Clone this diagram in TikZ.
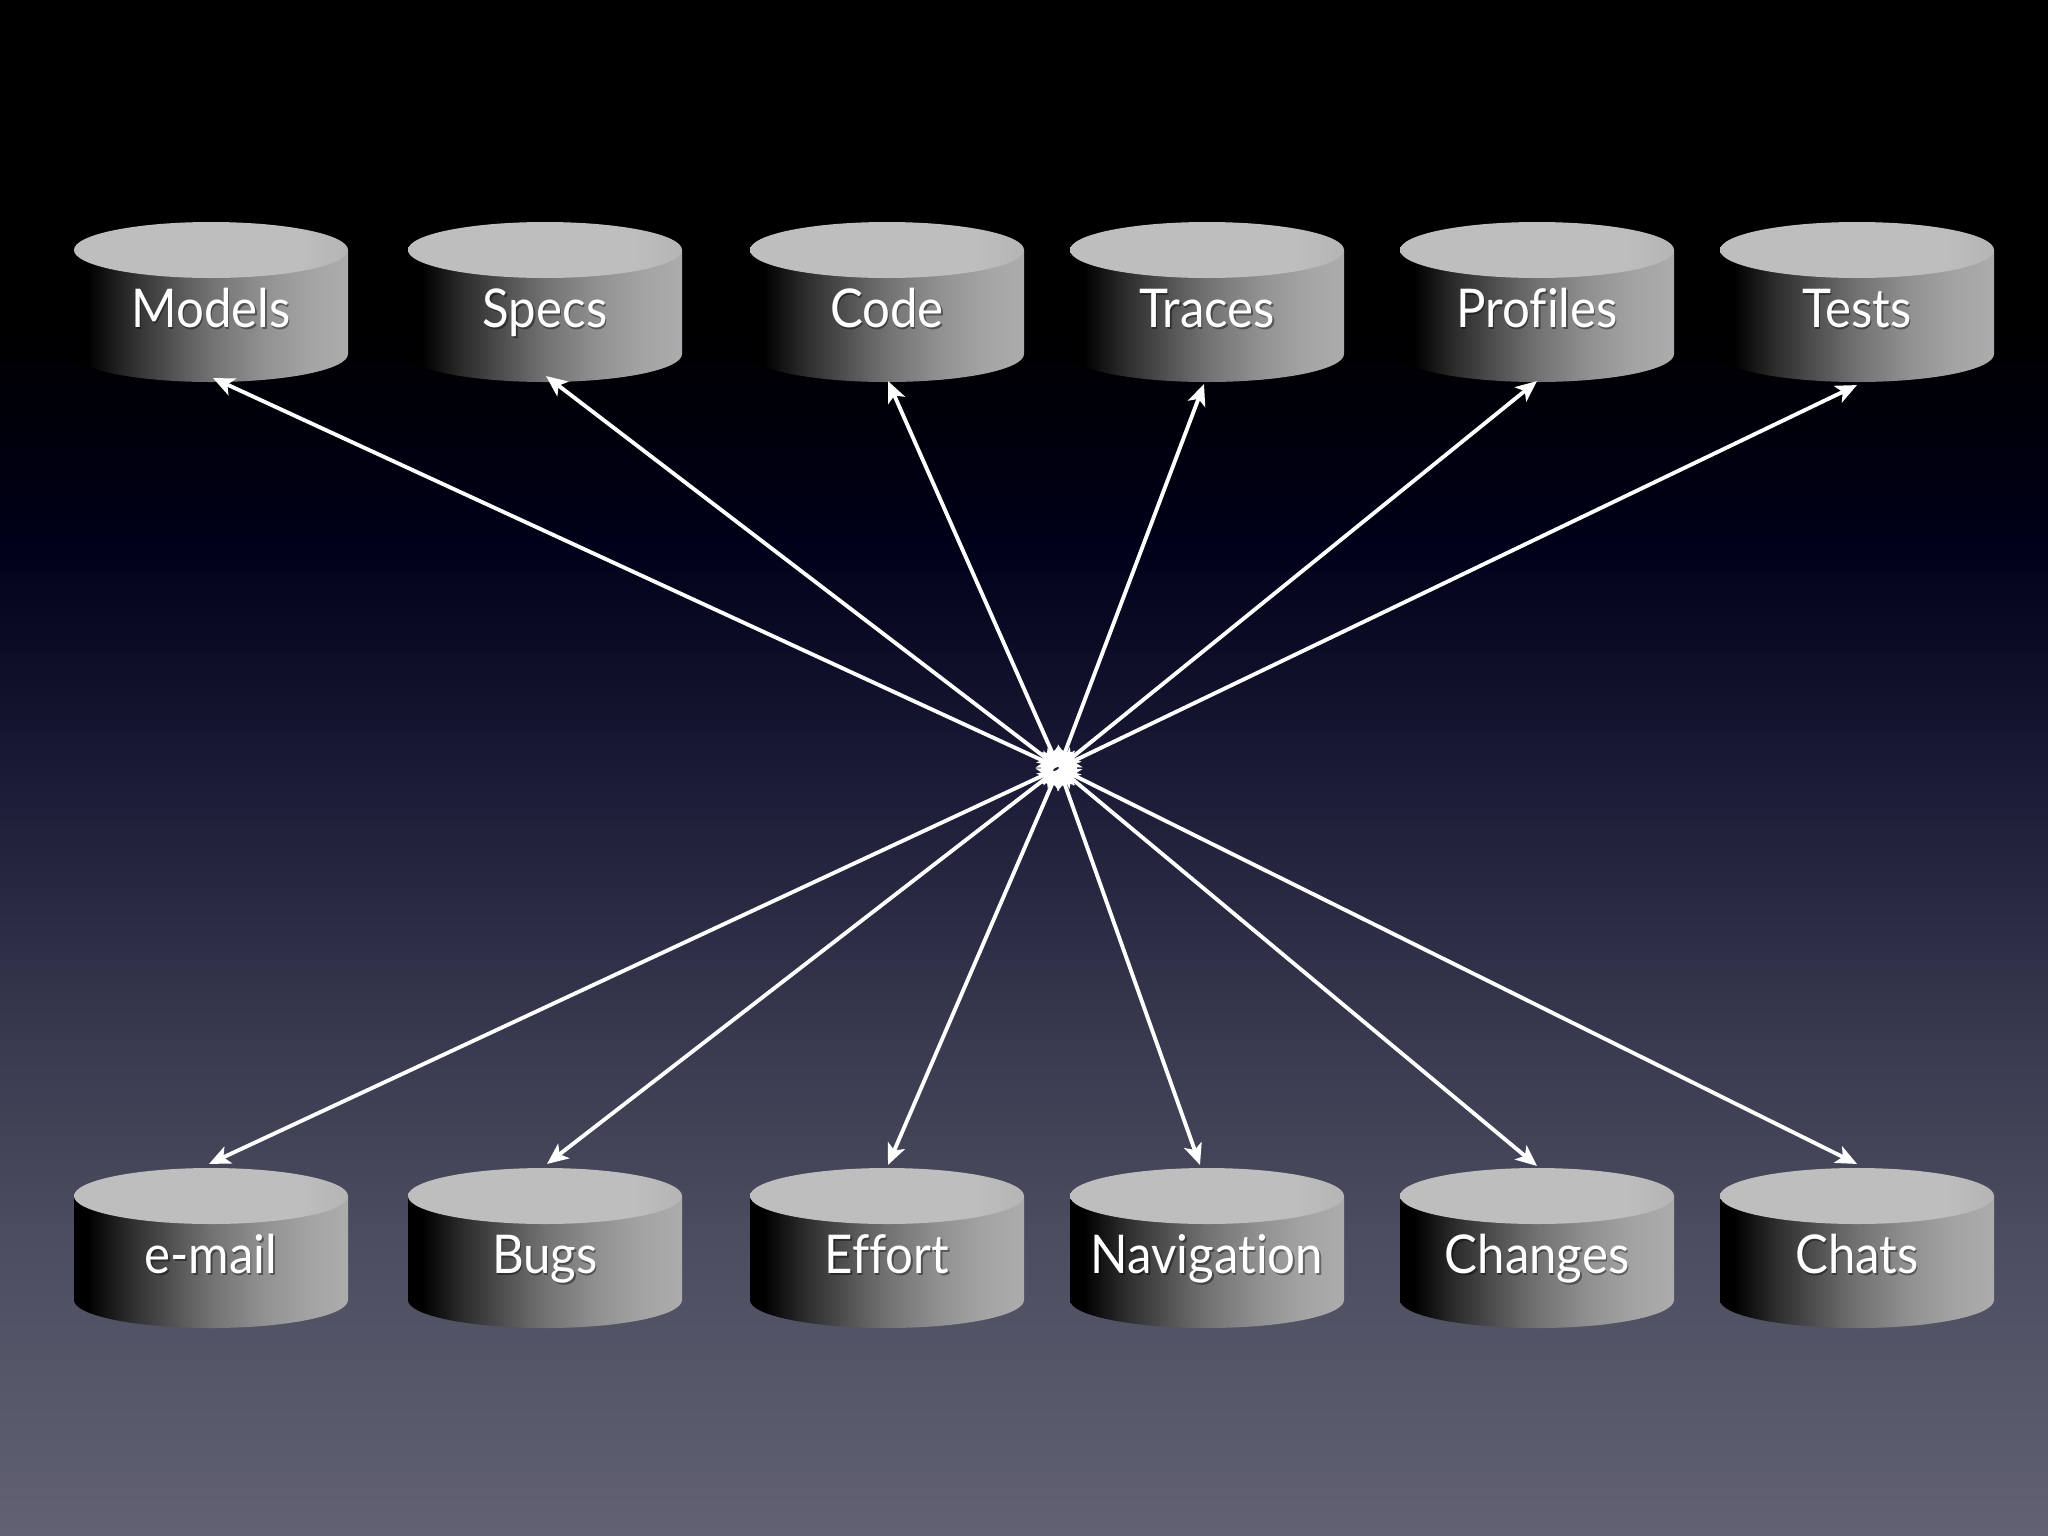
\documentclass[tikz,border=0pt]{standalone}
\usepackage{fontspec}
\setmainfont[FakeStretch=0.92,Ligatures=NoCommon]{Lato}
\usetikzlibrary{arrows.meta,shapes.geometric}
\definecolor{bgA}{HTML}{000018}
\definecolor{bgB}{HTML}{1A1A36}
\definecolor{bgC}{HTML}{3A3A50}
\definecolor{bgD}{HTML}{4C4C60}
\definecolor{bgE}{HTML}{616173}
\definecolor{capA}{HTML}{BEBEBE}
\definecolor{capB}{HTML}{B5B5B5}
\definecolor{bodyA}{HTML}{2C2C2C}
\definecolor{bodyB}{HTML}{5C5C5C}
\definecolor{bodyC}{HTML}{727272}
\definecolor{bodyD}{HTML}{929292}
\definecolor{bodyE}{HTML}{A4A4A4}
\definecolor{bodyF}{HTML}{ACACAC}
\pgfdeclareverticalshading{slidebg}{100bp}{
 color(0bp)=(bgE); color(25bp)=(bgE); color(35bp)=(bgD); color(40.8bp)=(bgC); color(49.9bp)=(bgB); color(57.4bp)=(bgA); color(64.5bp)=(black); color(100bp)=(black)}
\pgfdeclarehorizontalshading{cylbody}{100bp}{
 color(0bp)=(black); color(27.5bp)=(black); color(35bp)=(bodyA); color(45bp)=(bodyB); color(50bp)=(bodyC); color(60bp)=(bodyD); color(68bp)=(bodyE); color(75bp)=(bodyF); color(100bp)=(bodyF)}
\pgfdeclarehorizontalshading{cylcap}{100bp}{
 color(0bp)=(capA); color(66bp)=(capA); color(75bp)=(capB); color(100bp)=(capB)}
\tikzset{
 x=0.01cm,y=-0.01cm,
 link/.style={draw=white,line width=1.1pt,{Stealth[length=6pt,width=5.2pt,inset=1.5pt]}-{Stealth[length=6pt,width=5.2pt,inset=1.5pt]}},
 hubcore/.style={fill=white,draw=none,circle,inner sep=0pt,minimum size=0.36cm},
 speck/.style={fill=bgB,draw=none,inner sep=0pt,minimum width=0.065cm,minimum height=0.025cm,ellipse,rotate=30},
 cylbox/.style={minimum width=2.74cm,minimum height=1.60cm,inner sep=0pt,outer sep=0pt},
 cyllabel/.style={anchor=base,text=white,inner sep=0pt,font=\fontsize{15.2}{18}\selectfont}
}
\newcommand\softtext[1]{\leavevmode\rlap{\kern.4pt\raisebox{-.6pt}{\pgfsetfillopacity{0.4}\textcolor{black}{#1}\pgfsetfillopacity{1}}}#1}
\newcommand\cyl[4]{%
 \begin{scope}[shift={(#2,#3)}]
  \shade[shading=cylbody] (-137,28) -- (-137,132) arc[start angle=180,end angle=360,x radius=137,y radius=-28] -- (137,28) -- cycle;
  \shade[shading=cylcap] (0,28) ellipse[x radius=137,y radius=28];
  \node[cylbox] (#1) at (0,80) {};
  \node[cyllabel] (#1-label) at (0,105) {\softtext{#4}};
 \end{scope}}
\begin{document}
\begin{tikzpicture}
\useasboundingbox (0,0) rectangle (2048,1536);
\shade[shading=slidebg] (0,0) rectangle (2048,1536);
\cyl{models}{211}{222}{Models}
\cyl{specs}{545}{222}{Specs}
\cyl{code}{887}{222}{Code}
\cyl{traces}{1207}{222}{Traces}
\cyl{profiles}{1537}{222}{Profiles}
\cyl{tests}{1857}{222}{Tests}
\cyl{email}{211}{1168}{e-mail}
\cyl{bugs}{545}{1168}{Bugs}
\cyl{effort}{887}{1168}{Effort}
\cyl{navigation}{1207}{1168}{Navigation}
\cyl{changes}{1537}{1168}{Changes}
\cyl{chats}{1857}{1168}{Chats}
\coordinate (hub) at (1059,768);
\draw[link] (hub) -- ([shift={(2,-4)}]models.south);
\draw[link] (hub) -- ([shift={(1,-6)}]specs.south);
\draw[link] (hub) -- ([shift={(1,-1)}]code.south);
\draw[link] (hub) -- ([shift={(-3,2)}]traces.south);
\draw[link] (hub) -- ([shift={(0,-1)}]profiles.south);
\draw[link] (hub) -- ([shift={(0,3)}]tests.south);
\draw[link] (hub) -- ([shift={(-2,-4)}]email.north);
\draw[link] (hub) -- ([shift={(2,-4)}]bugs.north);
\draw[link] (hub) -- ([shift={(1,-3)}]effort.north);
\draw[link] (hub) -- ([shift={(-7,-3)}]navigation.north);
\draw[link] (hub) -- ([shift={(0,-2)}]changes.north);
\draw[link] (hub) -- ([shift={(0,-4)}]chats.north);
\node[hubcore] (hubblob) at (hub) {};
\node[speck] (hubspeck) at (1056,769) {};
\end{tikzpicture}
\end{document}
